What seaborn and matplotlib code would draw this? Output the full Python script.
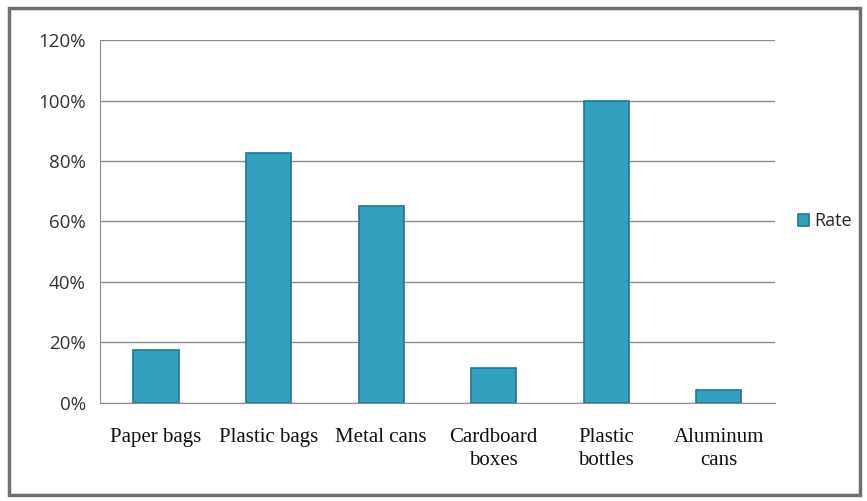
import numpy as np
import pandas as pd
import seaborn as sns
import matplotlib.pyplot as plt
from matplotlib.patches import Rectangle
from matplotlib.ticker import FuncFormatter, FixedLocator

categories = ['Paper bags', 'Plastic bags', 'Metal cans', 'Cardboard\nboxes', 'Plastic\nbottles', 'Aluminum\ncans']
rate = [17.5, 82.5, 65, 11.5, 100, 4.3]
yticks = [0, 20, 40, 60, 80, 100, 120]

df = pd.DataFrame({'item': categories, 'rate': rate})

sns.set_style('white')
fig = plt.figure(figsize=(8.67, 5.01), dpi=100)
ax = fig.add_axes([0.115, 0.196, 0.779, 0.724])

sns.barplot(data=df, x='item', y='rate', color='#32a0bf', width=0.4,
            edgecolor='#1d7890', linewidth=1.2, saturation=1, label='Rate', ax=ax)

ax.set_ylim(0, 120)
ax.set_xlim(-0.5, 5.5)
ax.set_yticks(yticks)
ax.yaxis.set_major_formatter(FuncFormatter(lambda v, p: f'{int(v)}%'))
ax.grid(axis='y', color='#8c8c8c', linewidth=1)
ax.set_axisbelow(True)
for s in ['top', 'right']:
    ax.spines[s].set_visible(False)
ax.spines['left'].set_color('#8c8c8c')
ax.spines['bottom'].set_color('#8c8c8c')
ax.set_xlabel('')
ax.set_ylabel('')

ax.tick_params(axis='y', length=5, color='#8c8c8c', labelsize=13.5, pad=5)
for t in ax.get_yticklabels():
    t.set_family('Open Sans')
    t.set_color('#333333')

ax.tick_params(axis='x', which='major', length=0, pad=18, labelsize=15)
ax.xaxis.set_minor_locator(FixedLocator(np.arange(-0.5, 6, 1)))
ax.tick_params(axis='x', which='minor', length=6, color='#8c8c8c')
for t in ax.get_xticklabels():
    t.set_family('Liberation Serif')
    t.set_color('#111111')
    t.set_linespacing(1.3)

leg = ax.legend(loc='center left', bbox_to_anchor=(1.01, 0.5), frameon=False,
                handlelength=0.6, handleheight=0.7, handletextpad=0.3,
                prop={'family': 'Open Sans', 'size': 13})

fig.patches.append(Rectangle((0.010, 0.012), 0.982, 0.972, transform=fig.transFigure,
                             fill=False, edgecolor='#707070', linewidth=2.5))

fig.savefig('out.png', dpi=100)
